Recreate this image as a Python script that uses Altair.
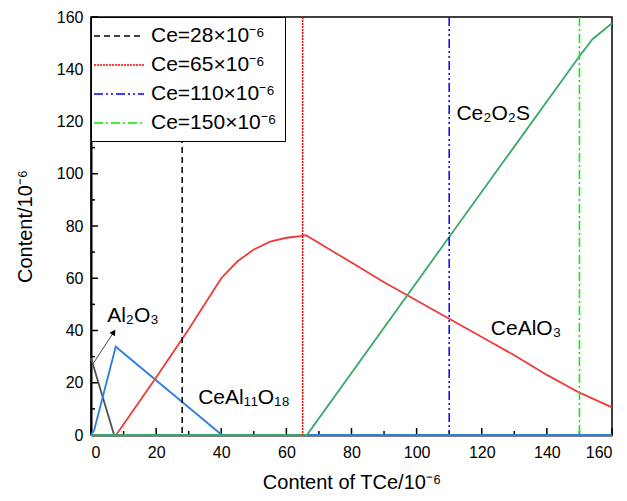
import altair as alt
import pandas as pd

# ---- data ----
al2o3_x = [0, 7.1]
al2o3_y = [29.5, 0]

ceal11_x = [0, 1, 7.6, 40.2, 160]
ceal11_y = [0, 2, 33.8, 0, 0]

cealo3_x = [7.7, 20, 30, 40, 45, 50, 55, 60, 65, 66, 70, 80, 90, 97, 100, 110, 120, 130, 140, 150, 160]
cealo3_y = [0, 22, 40.5, 60, 66.5, 71, 74, 75.5, 76.2, 76.5, 73.5, 66, 58.5, 53.6, 51.5, 44.5, 37.5, 30.5, 23, 16.2, 10.6]

ce2o2s_x = [0, 66.3, 110, 150, 154, 160]
ce2o2s_y = [0, 0, 75.8, 145, 151.5, 157.6]

vline_x = [28, 65, 110, 150]
vline_labels = ["Ce=28×10⁻⁶", "Ce=65×10⁻⁶", "Ce=110×10⁻⁶", "Ce=150×10⁻⁶"]
vline_colors = ["#000000", "#ff0000", "#0000ff", "#00ee00"]
vline_dashes = [[6, 4], [2, 1], [9, 3, 2, 3, 2, 3], [9, 3, 2, 3]]

ann_text = ["Al₂O₃", "CeAl₁₁O₁₈", "CeAlO₃", "Ce₂O₂S"]
ann_x = [12.9, 47, 133.6, 123.5]
ann_y = [45.5, 14.2, 40.6, 122.9]

arrow_x = [0.7, 7.0]
arrow_y = [27.4, 39.4]

major_ticks = [0, 20, 40, 60, 80, 100, 120, 140, 160]
minor_ticks = [10, 30, 50, 70, 90, 110, 130, 150]

FONT = "Liberation Sans"
W, H = 521, 418
xs = alt.Scale(domain=[0, 160], nice=False, zero=False)
ys = alt.Scale(domain=[0, 160], nice=False, zero=False)


def curve(xv, yv, color):
    df = pd.DataFrame({"x": xv, "y": yv})
    return alt.Chart(df).mark_line(color=color, strokeWidth=1.8).encode(
        x=alt.X("x:Q", scale=xs, axis=None),
        y=alt.Y("y:Q", scale=ys, axis=None),
    )


main_axes = alt.Chart(pd.DataFrame({"x": [0], "y": [0]})).mark_point(opacity=0).encode(
    x=alt.X("x:Q", scale=xs, axis=alt.Axis(
        values=major_ticks, orient="bottom", tickSize=0, labelPadding=9,
        title="Content of TCe/10⁻⁶", titlePadding=12, domainColor="black", domainWidth=2)),
    y=alt.Y("y:Q", scale=ys, axis=alt.Axis(
        values=major_ticks, orient="left", tickSize=0, labelPadding=8,
        title="Content/10⁻⁶", titlePadding=21, domainColor="black", domainWidth=2)),
)


def xticks(vals, size):
    return alt.Chart(pd.DataFrame({"v": vals})).mark_rule(color="black", strokeWidth=1.5).encode(
        x=alt.X("v:Q", scale=xs, axis=None),
        y=alt.value(H), y2=alt.value(H - size),
    )


def yticks(vals, size):
    return alt.Chart(pd.DataFrame({"v": vals})).mark_rule(color="black", strokeWidth=1.5).encode(
        y=alt.Y("v:Q", scale=ys, axis=None),
        x=alt.value(0), x2=alt.value(size),
    )


vdf = pd.DataFrame({"x": vline_x, "label": vline_labels})
vlines = alt.Chart(vdf).mark_rule(strokeWidth=1.5).encode(
    x=alt.X("x:Q", scale=xs, axis=None),
    color=alt.Color("label:N", scale=alt.Scale(domain=vline_labels, range=vline_colors),
                    sort=vline_labels, title=None),
    strokeDash=alt.StrokeDash("label:N", scale=alt.Scale(domain=vline_labels, range=vline_dashes),
                              sort=vline_labels, title=None),
)

adf = pd.DataFrame({"x": ann_x, "y": ann_y, "t": ann_text})
ann = alt.Chart(adf).mark_text(font=FONT, fontSize=21, color="black").encode(
    x=alt.X("x:Q", scale=xs, axis=None),
    y=alt.Y("y:Q", scale=ys, axis=None),
    text="t:N",
)

arrow_line = alt.Chart(pd.DataFrame({"x": arrow_x, "y": arrow_y})).mark_line(
    color="#444444", strokeWidth=1).encode(
    x=alt.X("x:Q", scale=xs, axis=None),
    y=alt.Y("y:Q", scale=ys, axis=None),
)
arrow_head = alt.Chart(pd.DataFrame({"x": [arrow_x[1]], "y": [arrow_y[1]]})).mark_point(
    shape="triangle-up", filled=True, color="black", size=45, angle=33, opacity=1).encode(
    x=alt.X("x:Q", scale=xs, axis=None),
    y=alt.Y("y:Q", scale=ys, axis=None),
)

chart = alt.layer(
    main_axes,
    xticks(major_ticks, 7),
    xticks(minor_ticks, 4),
    yticks(major_ticks, 7),
    yticks(minor_ticks, 4),
    curve(al2o3_x, al2o3_y, "#505050"),
    curve(ceal11_x, ceal11_y, "#2f7fe0"),
    curve(cealo3_x, cealo3_y, "#f03a3a"),
    curve(ce2o2s_x, ce2o2s_y, "#3aa86a"),
    vlines,
    ann,
    arrow_line,
    arrow_head,
).resolve_axis(x="independent", y="independent").properties(
    width=W, height=H,
    autosize=alt.AutoSizeParams(type="none"),
    padding={"left": 83, "top": 9, "right": 7, "bottom": 64},
).configure_view(stroke="black", strokeWidth=1.5).configure_axis(
    grid=False, labelFont=FONT, labelFontSize=16, labelColor="black",
    titleFont=FONT, titleFontSize=20, titleFontWeight="normal", titleColor="black",
).configure_legend(
    orient="top-left", offset=0, padding=8, strokeColor="black", fillColor="white",
    labelFont=FONT, labelFontSize=21, labelColor="black",
    symbolType="M-1.6,0L3.4,0", symbolSize=400, symbolStrokeWidth=1.5,
    rowPadding=8, labelOffset=30, cornerRadius=0,
)

chart.save("out.html", embed_options={"renderer": "svg", "actions": False})
